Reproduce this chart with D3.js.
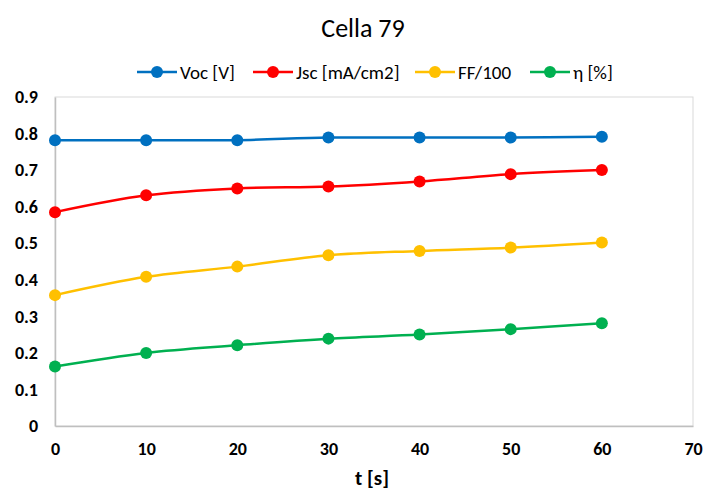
<!DOCTYPE html>
<html>
<head>
<meta charset="utf-8">
<script src="https://cdn.jsdelivr.net/npm/d3@7"></script>
<style>
  html, body { margin: 0; padding: 0; background: #fff; }
  svg { display: block; font-family: Carlito, Lato, "Liberation Sans", sans-serif; }
</style>
</head>
<body>
<svg id="chart" width="705" height="494"></svg>
<script>
const times = [0, 10, 20, 30, 40, 50, 60];
const voc = [0.782, 0.782, 0.782, 0.789, 0.789, 0.789, 0.791];
const jsc = [0.585, 0.631, 0.650, 0.655, 0.669, 0.689, 0.700];
const ff  = [0.358, 0.408, 0.436, 0.467, 0.479, 0.488, 0.502];
const eta = [0.163, 0.200, 0.221, 0.239, 0.250, 0.265, 0.281];
const seriesNames = ["Voc [V]", "Jsc [mA/cm2]", "FF/100", "η [%]"];
const seriesColors = ["#0070C0", "#FF0000", "#FFC000", "#00B050"];
const xTicks = [0, 10, 20, 30, 40, 50, 60, 70];
const yTicks = [0, 0.1, 0.2, 0.3, 0.4, 0.5, 0.6, 0.7, 0.8, 0.9];
const chartTitle = "Cella 79";
const xTitle = "t [s]";

const series = [voc, jsc, ff, eta].map((vals, i) => ({
  name: seriesNames[i], color: seriesColors[i],
  points: vals.map((v, j) => ({ t: times[j], v }))
}));

const svg = d3.select("#chart");
const m = { left: 55, top: 97, right: 693, bottom: 426 };
const x = d3.scaleLinear().domain([0, 70]).range([m.left, m.right]);
const y = d3.scaleLinear().domain([0, 0.9]).range([m.bottom, m.top]);

// plot area border
svg.append("rect")
  .attr("x", m.left).attr("y", m.top)
  .attr("width", m.right - m.left).attr("height", m.bottom - m.top)
  .attr("fill", "none").attr("stroke", "#d9d9d9").attr("stroke-width", 1);

// axes
const xAxis = svg.append("g").attr("transform", `translate(0,${m.bottom})`)
  .call(d3.axisBottom(x).tickValues(xTicks).tickSize(0).tickPadding(16).tickFormat(d3.format("d")));
const yAxis = svg.append("g").attr("transform", `translate(${m.left},0)`)
  .call(d3.axisLeft(y).tickValues(yTicks).tickSize(0).tickPadding(17).tickFormat(d => d === 0 ? "0" : d3.format(".1f")(d)));
[xAxis, yAxis].forEach(g => {
  g.select(".domain").attr("stroke", "#bfbfbf").attr("stroke-width", 1.5);
  g.selectAll("text").attr("font-size", 18).attr("font-weight", "bold").attr("fill", "#000")
    .attr("font-family", "Carlito, Lato, 'Liberation Sans', sans-serif");
});

// lines
const line = d3.line().x(d => x(d.t)).y(d => y(d.v)).curve(d3.curveCatmullRom.alpha(0.5));
series.forEach(s => {
  svg.append("path").datum(s.points)
    .attr("d", line).attr("fill", "none")
    .attr("stroke", s.color).attr("stroke-width", 2.5);
  svg.append("g").selectAll("circle").data(s.points).join("circle")
    .attr("cx", d => x(d.t)).attr("cy", d => y(d.v)).attr("r", 6)
    .attr("fill", s.color);
});

// title
svg.append("text").attr("x", 363).attr("y", 37).attr("text-anchor", "middle")
  .attr("font-size", 26).attr("fill", "#000").text(chartTitle);

// x axis title
svg.append("text").attr("x", 372).attr("y", 485).attr("text-anchor", "middle")
  .attr("font-size", 21).attr("font-weight", "bold").attr("fill", "#000").text(xTitle);

// legend
const legendX = [157, 273, 435, 550];
const legend = svg.append("g");
series.forEach((s, i) => {
  const g = legend.append("g").attr("transform", `translate(${legendX[i]},72)`);
  g.append("line").attr("x1", -20).attr("x2", 20).attr("y1", 0).attr("y2", 0)
    .attr("stroke", s.color).attr("stroke-width", 2.5);
  g.append("circle").attr("r", 6).attr("fill", s.color);
  g.append("text").attr("x", 23).attr("y", 6.5).attr("font-size", 19)
    .attr("fill", "#000").text(s.name);
});
</script>
</body>
</html>
